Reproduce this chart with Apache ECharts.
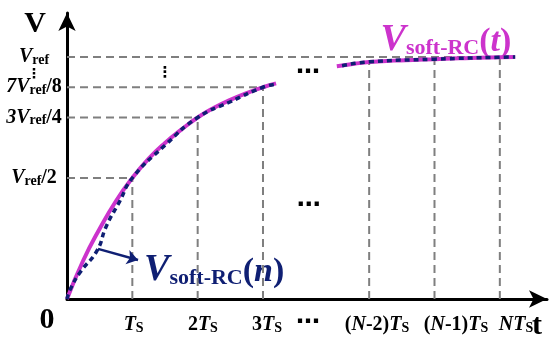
<!DOCTYPE html>
<html><head><meta charset="utf-8">
<script src="https://cdn.jsdelivr.net/npm/echarts@6/dist/echarts.min.js"></script>
<style>html,body{margin:0;padding:0;background:#fff}#c{width:552px;height:337px}</style>
</head><body><div id="c"></div>
<script>
// ---- data (x in units of Ts on a broken axis, y in units of Vref) ----
const curveEarlyX = [0,0.25,0.5,0.75,1,1.25,1.5,1.75,2,2.25,2.5,2.75,3,3.2];
const curveEarlyV = [0,0.16,0.29,0.405,0.5,0.58,0.645,0.70,0.75,0.79,0.823,0.851,0.875,0.891];
const curveLateX = [4.13,4.4,4.625,5,5.3,5.625,6,6.3,6.625,6.86];
const curveLateV = [0.962,0.972,0.979,0.985,0.988,0.991,0.995,0.997,0.999,1.0];
const sampledEarlyX = [0,0.05,0.2,0.46,0.6,0.8,1,1.5,2,2.5,3,3.2];
const sampledEarlyV = [0,0.04,0.11,0.2,0.3,0.4,0.5,0.635,0.75,0.815,0.875,0.888];
const sampledLateX = [4.21,4.625,5.625,6.625,6.86];
const sampledLateV = [0.964,0.98,0.991,0.999,1.0];
const stepX = [1,2,3];
const stepV = [0.5,0.75,0.875];
const lateStepX = [4.625,5.625,6.625];
const lateStepV = [0.98,0.991,0.999];
const refLineEndX = 6.625;
const yLabelValues = [0.5,0.75,0.875,1.0];
const yLabels = ['Vref/2','3Vref/4','7Vref/8','Vref'];
const xLabelPos = [1.02,2.08,3.06,3.69,4.745,5.954,6.873];
const xLabels = ['Ts','2Ts','3Ts','⋯','(N-2)Ts','(N-1)Ts','NTs'];
const arrowFrom = [0.475,0.207];
const arrowTo = [1.087,0.161];

const MAG = '#cc33cc', NAVY = '#0f1f73', GRAY = '#7f7f7f';
const SERIF = 'Liberation Serif';

const richFor = {
  'Ts':'{i|T}{s|S}', '2Ts':'{b|2}{i|T}{s|S}', '3Ts':'{b|3}{i|T}{s|S}', '⋯':'{d|⋯}',
  '(N-2)Ts':'{b|(}{i|N}{b|-2)}{i|T}{s|S}', '(N-1)Ts':'{b|(}{i|N}{b|-1)}{i|T}{s|S}', 'NTs':'{i|NT}{s|S}',
  'Vref':'{i|V}{s|ref}', 'Vref/2':'{i|V}{s|ref}{b|/2}', '3Vref/4':'{i|3V}{s|ref}{b|/4}',
  '7Vref/8':'{i|7V}{s|ref}{b|/8}'
};
function mkRich(main, sub){
  return {
    i:{fontFamily:SERIF,fontStyle:'italic',fontWeight:'bold',fontSize:main,lineHeight:main,verticalAlign:'bottom',color:'#000'},
    b:{fontFamily:SERIF,fontWeight:'bold',fontSize:main,lineHeight:main,verticalAlign:'bottom',color:'#000'},
    s:{fontFamily:SERIF,fontWeight:'bold',fontSize:sub,lineHeight:sub,verticalAlign:'bottom',color:'#000'},
    d:{fontFamily:'DejaVu Sans',fontWeight:'bold',fontSize:24,lineHeight:main,verticalAlign:'bottom',color:'#000'}
  };
}
const zip = (xs, ys) => xs.map((x, k) => [x, ys[k]]);
const guide = (data) => ({type:'line', data, symbol:'none', silent:true, z:1,
  lineStyle:{color:GRAY, width:2, type:[8,5]}});

const series = [];
stepX.forEach((x, k) => {
  series.push(guide([[0, stepV[k]], [x, stepV[k]]]));
  series.push(guide([[x, 0], [x, stepV[k]]]));
});
lateStepX.forEach((x, k) => series.push(guide([[x, 0], [x, lateStepV[k]]])));
series.push(guide([[0, 1], [refLineEndX, 1]]));
series.push({type:'line', data:zip(curveEarlyX, curveEarlyV), smooth:true, symbol:'none', z:3,
  lineStyle:{color:MAG, width:4}});
series.push({type:'line', data:zip(curveLateX, curveLateV), smooth:true, symbol:'none', z:3,
  lineStyle:{color:MAG, width:4}});
series.push({type:'line', data:zip(sampledEarlyX, sampledEarlyV), smooth:true, symbol:'none', z:4,
  lineStyle:{color:NAVY, width:3.5, type:[5,4]},
  markLine:{silent:true, symbol:['none','arrow'], symbolSize:11, label:{show:false},
    lineStyle:{color:NAVY, width:2.5, type:'solid'},
    data:[[{coord:arrowFrom},{coord:arrowTo}]]}});
series.push({type:'line', data:zip(sampledLateX, sampledLateV), smooth:true, symbol:'none', z:4,
  lineStyle:{color:NAVY, width:3.5, type:[5,4]}});

const chart = echarts.init(document.getElementById('c'));
chart.setOption({
  animation:false,
  backgroundColor:'#fff',
  grid:{left:67, top:13, width:480, height:286, containLabel:false},
  xAxis:{type:'value', min:0, max:7.347, splitLine:{show:false}, axisTick:{show:false},
    axisLine:{lineStyle:{color:'#000', width:3}, symbol:['none','arrow'], symbolSize:[13,18]},
    axisLabel:{customValues:xLabelPos, margin:16, hideOverlap:false,
      formatter:(v) => richFor[xLabels[xLabelPos.indexOf(v)]] || '', rich:mkRich(20,14)}},
  yAxis:{type:'value', min:0, max:1.1818, splitLine:{show:false}, axisTick:{show:false},
    axisLine:{lineStyle:{color:'#000', width:3}, symbol:['none','arrow'], symbolSize:[13,18]},
    axisLabel:{customValues:yLabelValues, margin:33, align:'center', hideOverlap:false,
      formatter:(v) => richFor[yLabels[yLabelValues.indexOf(v)]] || '', rich:mkRich(20,14)}},
  series
});

const px = (p) => chart.convertToPixel({gridIndex:0}, p);
const bigFont = 'bold 30px "' + SERIF + '"';
const softRich = (c) => ({
  v:{fontFamily:SERIF,fontStyle:'italic',fontWeight:'bold',fontSize:38,lineHeight:38,verticalAlign:'bottom',fill:c},
  s:{fontFamily:SERIF,fontWeight:'bold',fontSize:22,lineHeight:22,verticalAlign:'bottom',fill:c},
  p:{fontFamily:SERIF,fontWeight:'bold',fontSize:34,lineHeight:36,verticalAlign:'bottom',fill:c},
  t:{fontFamily:SERIF,fontStyle:'italic',fontWeight:'bold',fontSize:34,lineHeight:36,verticalAlign:'bottom',fill:c}
});
const o = px([0,0]);
const pT = px([4.8, 1.07]);
const pN = px([1.18, 0.118]);
const d0 = px([0, 0.93]);
const d1 = px([1.5, 0.935]);
const d2 = px([3.69, 0.934]);
const d3 = px([3.7, 0.384]);
const yTop = px([0, 1.1818]);
const xEnd = px([7.347, 0]);
chart.setOption({graphic:[
  {type:'text', x:o[0]-32, y:yTop[1]+11, style:{text:'V', font:bigFont, fill:'#000', align:'center', verticalAlign:'middle'}},
  {type:'text', x:xEnd[0]-10, y:o[1]+27, style:{text:'t', font:bigFont, fill:'#000', align:'center', verticalAlign:'middle'}},
  {type:'text', x:o[0]-20, y:o[1]+21, style:{text:'0', font:bigFont, fill:'#000', align:'center', verticalAlign:'middle'}},
  {type:'text', x:pT[0], y:pT[1], style:{text:'{v|V}{s|soft-RC}{p|(}{t|t}{p|)}', rich:softRich(MAG), align:'left', verticalAlign:'middle'}},
  {type:'text', x:pN[0], y:pN[1], style:{text:'{v|V}{s|soft-RC}{p|(}{t|n}{p|)}', rich:softRich(NAVY), align:'left', verticalAlign:'middle'}},
  {type:'text', x:d0[0]-33, y:d0[1], style:{text:'⋮', font:'bold 14px "DejaVu Sans"', fill:'#000', align:'center', verticalAlign:'middle'}},
  {type:'text', x:d1[0], y:d1[1], style:{text:'⋮', font:'bold 15px "DejaVu Sans"', fill:'#000', align:'center', verticalAlign:'middle'}},
  {type:'text', x:d2[0], y:d2[1], style:{text:'⋯', font:'bold 24px "DejaVu Sans"', fill:'#000', align:'center', verticalAlign:'middle'}},
  {type:'text', x:d3[0], y:d3[1], style:{text:'⋯', font:'bold 24px "DejaVu Sans"', fill:'#000', align:'center', verticalAlign:'middle'}}
]});
</script></body></html>
